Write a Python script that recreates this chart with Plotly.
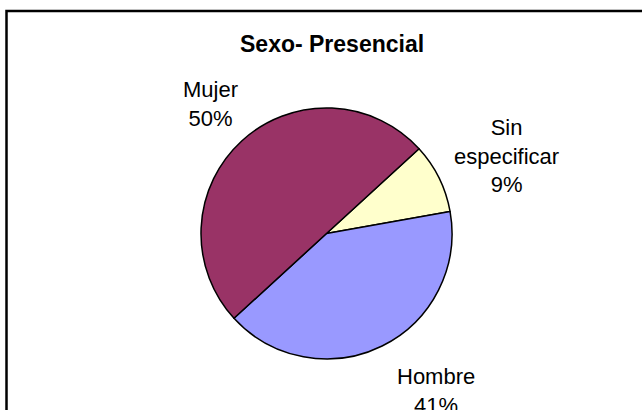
import plotly.graph_objects as go

W, H = 642, 410

title = "Sexo- Presencial"
categories = ["Sin especificar", "Hombre", "Mujer"]
display_labels = ["Sin<br>especificar", "Hombre", "Mujer"]
percentages = [9, 41, 50]
colors = ["#FFFFCC", "#9999FF", "#993366"]

# label anchor positions in pixels (layout only)
label_pos = [(506, 156), (436, 391), (210, 104)]

cx, cy, r = 326.5, 233.5, 125.5

fig = go.Figure()
fig.add_trace(go.Pie(
    labels=categories,
    values=percentages,
    sort=False,
    direction="clockwise",
    rotation=47.5,
    marker=dict(colors=colors, line=dict(color="black", width=1.5)),
    textinfo="none",
    hoverinfo="label+percent",
    showlegend=False,
    domain=dict(x=[(cx - r) / W, (cx + r) / W], y=[(H - cy - r) / H, (H - cy + r) / H]),
))

annotations = [dict(
    text="<b>" + title + "</b>", x=332 / W, y=1 - 44 / H, xref="paper", yref="paper",
    showarrow=False, xanchor="center", yanchor="middle",
    font=dict(family="Arial", size=23, color="black"))]
for lab, val, (px, py) in zip(display_labels, percentages, label_pos):
    annotations.append(dict(
        text=f"{lab}<br>{val}%", x=px / W, y=1 - py / H, xref="paper", yref="paper",
        showarrow=False, xanchor="center", yanchor="middle", align="center",
        font=dict(family="Arial", size=22, color="black")))

fig.update_layout(
    width=W, height=H,
    margin=dict(l=0, r=0, t=0, b=0),
    paper_bgcolor="white", plot_bgcolor="white",
    annotations=annotations,
    shapes=[dict(type="rect", xref="paper", yref="paper",
                 x0=6.5 / W, y0=1 - 11 / H, x1=1.05, y1=-0.05,
                 line=dict(color="black", width=2.5))],
)

fig.write_html(
    "out.html",
    config={"displayModeBar": False},
    post_script="document.body.style.margin='0';document.body.style.overflow='hidden';",
)
